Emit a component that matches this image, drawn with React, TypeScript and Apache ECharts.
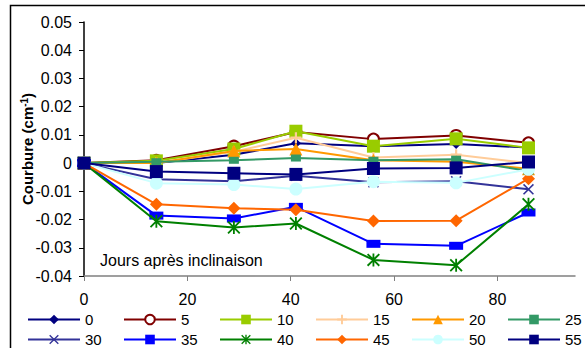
import React, { useEffect, useRef } from "react";
import * as echarts from "echarts";

const days = [0, 14, 29, 41, 56, 72, 86];
const yTicks = [-0.04, -0.03, -0.02, -0.01, 0, 0.01, 0.02, 0.03, 0.04, 0.05];
const xTicks = [0, 20, 40, 60, 80];

const s0 = [0, 0, 0.003, 0.007, 0.006, 0.0068, 0.0055];
const s5 = [0, 0.001, 0.006, 0.011, 0.0085, 0.0098, 0.0072];
const s10 = [0, 0.0008, 0.005, 0.0113, 0.006, 0.0086, 0.0054];
const s15 = [0, 0, 0.004, 0.009, 0.002, 0.003, 0];
const s20 = [0, 0, 0.0043, 0.005, 0.001, 0.0005, -0.002];
const s25 = [0, 0.0005, 0.001, 0.0018, 0.001, 0.0014, -0.0028];
const s30 = [0, -0.0057, -0.0064, -0.0045, -0.0068, -0.0064, -0.0093];
const s35 = [0, -0.0186, -0.0196, -0.0155, -0.0286, -0.0293, -0.0175];
const s40 = [0, -0.0206, -0.0228, -0.0214, -0.0343, -0.0362, -0.0146];
const s45 = [0, -0.0146, -0.016, -0.0165, -0.0205, -0.0204, -0.0055];
const s50 = [0, -0.0071, -0.0076, -0.0092, -0.0066, -0.007, -0.0022];
const s55 = [0, -0.003, -0.0036, -0.004, -0.0019, -0.0017, 0.0004];

const names = ["0", "5", "10", "15", "20", "25", "30", "35", "40", "45", "50", "55"];
const values = [s0, s5, s10, s15, s20, s25, s30, s35, s40, s45, s50, s55];

const PLUS = "path://M4,0H6V4H10V6H6V10H4V6H0V4H4Z";
const CROSS = "path://M0,1L1,0L5,4L9,0L10,1L6,5L10,9L9,10L5,6L1,10L0,9L4,5Z";
const STAR =
  "path://M0,1L1,0L5,4L9,0L10,1L6,5L10,9L9,10L5,6L1,10L0,9L4,5ZM4.3,0H5.7V10H4.3Z";

const styles: any[] = [
  { color: "#000080", symbol: "diamond", size: 10 },
  { color: "#800000", symbol: "emptyCircle", size: 11 },
  { color: "#99CC00", symbol: "rect", size: 13 },
  { color: "#FFCC99", symbol: PLUS, size: 11 },
  { color: "#FF9900", symbol: "triangle", size: 13 },
  { color: "#339966", symbol: "rect", size: [10, 7] },
  { color: "#333399", symbol: CROSS, size: 11 },
  { color: "#0000FF", symbol: "rect", size: [14, 8] },
  { color: "#008000", symbol: STAR, size: 13 },
  { color: "#FF6600", symbol: "diamond", size: 13 },
  { color: "#CCFFFF", symbol: "circle", size: 13 },
  { color: "#000080", symbol: "rect", size: 13 },
];

const legendCols = [27, 123, 219, 315, 411, 507];
const legendRows = [312, 332];

export default function App() {
  const ref = useRef<HTMLDivElement>(null);
  useEffect(() => {
    if (!ref.current) return;
    const chart = echarts.init(ref.current, undefined, { renderer: "svg" });
    const series = names.map((n, i) => ({
      name: n,
      type: "line",
      data: days.map((d, j) => [d, values[i][j]]),
      symbol: styles[i].symbol,
      symbolSize: styles[i].size,
      showAllSymbol: true,
      lineStyle: { color: styles[i].color, width: 2 },
      itemStyle: {
        color: styles[i].color,
        borderColor: styles[i].color,
        borderWidth: styles[i].symbol === "emptyCircle" ? 2 : 0,
      },
      emphasis: { disabled: true },
      z: 2 + i,
    }));
    const legends = names.map((n, i) => ({
      orient: "horizontal",
      left: legendCols[i % 6],
      top: legendRows[Math.floor(i / 6)],
      itemWidth: 52,
      itemHeight: 12,
      padding: 0,
      data: [n],
      textStyle: { fontFamily: "Liberation Sans, Arial", fontSize: 15, color: "#000" },
      selectedMode: false,
    }));
    chart.setOption({
      animation: false,
      backgroundColor: "#fff",
      grid: { left: 84, right: 10, top: 22, bottom: 72 },
      legend: legends,
      xAxis: {
        type: "value",
        min: 0,
        max: 95,
        interval: 20,
        axisLine: { onZero: false, lineStyle: { color: "#808080", width: 1.5 } },
        axisTick: { inside: false, length: 5, lineStyle: { color: "#808080" } },
        splitLine: { show: false },
        axisLabel: {
          margin: 15,
          showMaxLabel: false,
          fontFamily: "Liberation Sans, Arial",
          fontSize: 16,
          color: "#000",
          formatter: (v: number) => (xTicks.includes(v) ? String(v) : ""),
        },
      },
      yAxis: {
        type: "value",
        min: yTicks[0],
        max: yTicks[yTicks.length - 1],
        interval: 0.01,
        axisLine: { show: true, onZero: false, lineStyle: { color: "#000", width: 1.5 } },
        axisTick: { show: true, length: 5, lineStyle: { color: "#000" } },
        splitLine: { show: false },
        axisLabel: {
          margin: 12,
          fontFamily: "Liberation Sans, Arial",
          fontSize: 16,
          color: "#000",
          formatter: (v: number) => (Math.abs(v) < 1e-9 ? "0" : v.toFixed(2)),
        },
      },
      graphic: [
        {
          type: "rect",
          shape: { x: 10.5, y: 5.5, width: 700, height: 500 },
          style: { fill: "none", stroke: "#000", lineWidth: 1.5 },
          silent: true,
          z: 0,
        },
        {
          type: "text",
          x: 27,
          y: 149,
          rotation: Math.PI / 2,
          style: {
            text: "{a|Courbure (cm}{s|-1}{a|)}",
            align: "center",
            verticalAlign: "middle",
            rich: {
              a: { fontFamily: "Liberation Sans, Arial", fontSize: 15, fontWeight: "bold", fill: "#000" },
              s: { fontFamily: "Liberation Sans, Arial", fontSize: 10, fontWeight: "bold", fill: "#000", verticalAlign: "top" },
            },
          },
          z: 10,
        },
        {
          type: "text",
          x: 100,
          y: 260,
          style: {
            text: "Jours après inclinaison",
            fontFamily: "Liberation Sans, Arial",
            fontSize: 16,
            fill: "#000",
            verticalAlign: "middle",
          },
          z: 10,
        },
      ],
      series,
    });
    return () => chart.dispose();
  }, []);
  return (
    <div
      ref={ref}
      style={{ position: "fixed", left: 0, top: 0, width: 585, height: 348, background: "#fff" }}
    />
  );
}
